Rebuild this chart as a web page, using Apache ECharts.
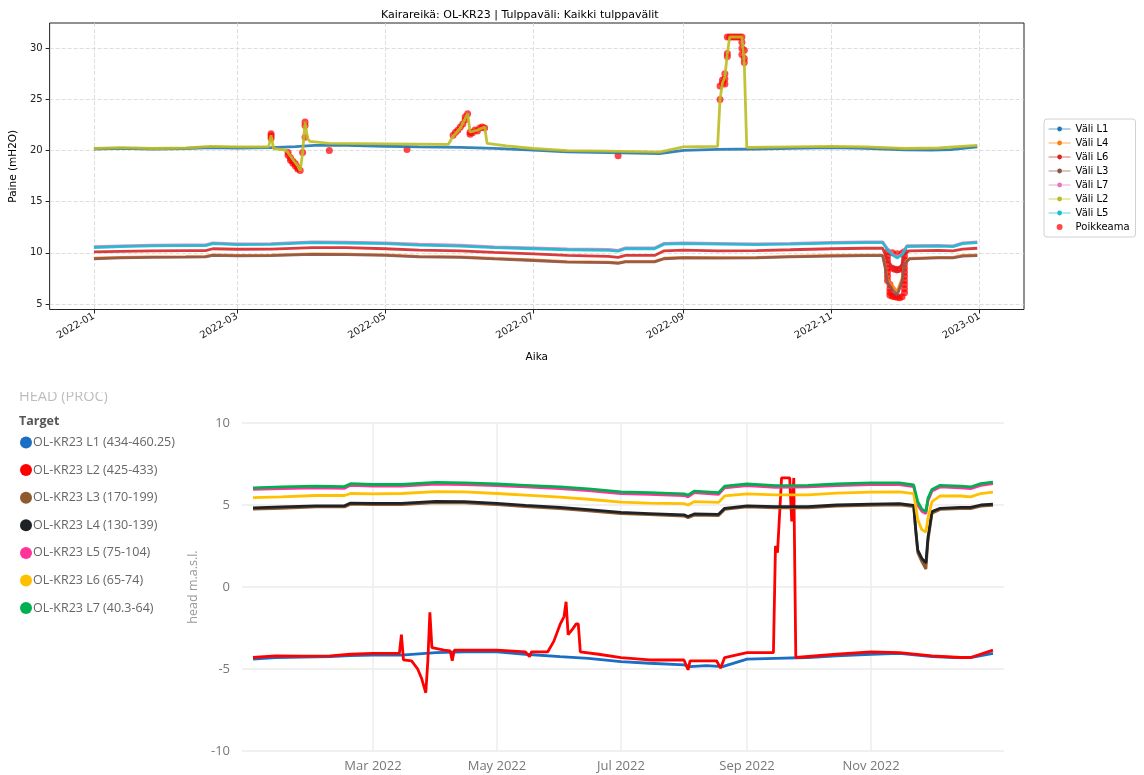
<!DOCTYPE html>
<html>
<head>
<meta charset="utf-8">
<script src="https://cdn.jsdelivr.net/npm/echarts@6/dist/echarts.min.js"></script>
<style>
  html, body { margin: 0; padding: 0; background: #fff; }
  #chart { width: 1144px; height: 775px; }
</style>
</head>
<body>
<div id="chart"></div>
<script>
// upper plot: pressure per interval (mH2O)
const topXTicks = ['2022-01-01', '2022-03-01', '2022-05-01', '2022-07-01', '2022-09-01', '2022-11-01', '2023-01-01'];
const topYTicks = [5, 10, 15, 20, 25, 30];

const topL1 = [['2022-01-01',20.15],['2022-01-12',20.22],['2022-01-25',20.15],['2022-02-08',20.2],['2022-02-18',20.3],['2022-03-01',20.25],['2022-03-15',20.28],['2022-03-25',20.38],['2022-04-02',20.5],['2022-04-15',20.5],['2022-05-01',20.42],['2022-05-15',20.35],['2022-06-01',20.32],['2022-06-15',20.22],['2022-07-01',20.05],['2022-07-15',19.88],['2022-08-01',19.8],['2022-08-12',19.75],['2022-08-22',19.7],['2022-09-01',20.02],['2022-09-15',20.12],['2022-10-01',20.15],['2022-10-15',20.22],['2022-11-01',20.28],['2022-11-15',20.22],['2022-12-01',20.08],['2022-12-12',20.05],['2022-12-20',20.1],['2022-12-31',20.35]];
const topL4 = [['2022-01-01',9.48],['2022-01-12',9.55],['2022-01-25',9.6],['2022-02-08',9.62],['2022-02-16',9.65],['2022-02-19',9.8],['2022-03-01',9.75],['2022-03-15',9.77],['2022-04-01',9.9],['2022-04-15',9.88],['2022-05-01',9.8],['2022-05-15',9.66],['2022-06-01',9.6],['2022-06-15',9.45],['2022-07-01',9.3],['2022-07-15',9.15],['2022-08-01',9.1],['2022-08-05',9.02],['2022-08-08',9.17],['2022-08-20',9.17],['2022-08-24',9.47],['2022-09-01',9.55],['2022-09-15',9.53],['2022-10-01',9.55],['2022-10-15',9.65],['2022-11-01',9.74],['2022-11-15',9.78],['2022-11-22',9.78],['2022-11-23',8.8],['2022-11-24',7.4],['2022-11-26',6.8],['2022-11-28',6.2],['2022-11-30',7.5],['2022-12-01',9.0],['2022-12-03',9.45],['2022-12-15',9.55],['2022-12-21',9.55],['2022-12-25',9.74],['2022-12-31',9.78]];
const topL6 = [['2022-01-01',10.1],['2022-01-12',10.15],['2022-01-25',10.2],['2022-02-08',10.22],['2022-02-16',10.22],['2022-02-19',10.4],['2022-03-01',10.35],['2022-03-15',10.36],['2022-04-01',10.5],['2022-04-15',10.5],['2022-05-01',10.4],['2022-05-15',10.26],['2022-06-01',10.2],['2022-06-15',10.05],['2022-07-01',9.9],['2022-07-15',9.76],['2022-08-01',9.66],['2022-08-05',9.56],['2022-08-08',9.75],['2022-08-20',9.75],['2022-08-24',10.2],['2022-09-01',10.26],['2022-09-15',10.2],['2022-10-01',10.22],['2022-10-15',10.3],['2022-11-01',10.4],['2022-11-15',10.45],['2022-11-22',10.45],['2022-11-24',9.3],['2022-11-26',8.6],['2022-11-28',8.1],['2022-11-30',8.9],['2022-12-01',9.9],['2022-12-03',10.2],['2022-12-15',10.25],['2022-12-21',10.2],['2022-12-25',10.36],['2022-12-31',10.45]];
const topL3 = [['2022-01-01',9.42],['2022-01-12',9.5],['2022-01-25',9.55],['2022-02-08',9.58],['2022-02-16',9.6],['2022-02-19',9.75],['2022-03-01',9.7],['2022-03-15',9.72],['2022-04-01',9.85],['2022-04-15',9.83],['2022-05-01',9.75],['2022-05-15',9.6],['2022-06-01',9.55],['2022-06-15',9.4],['2022-07-01',9.25],['2022-07-15',9.1],['2022-08-01',9.05],['2022-08-05',8.98],['2022-08-08',9.12],['2022-08-20',9.12],['2022-08-24',9.42],['2022-09-01',9.5],['2022-09-15',9.48],['2022-10-01',9.5],['2022-10-15',9.6],['2022-11-01',9.68],['2022-11-15',9.72],['2022-11-22',9.72],['2022-11-23',8.6],['2022-11-24',7.1],['2022-11-26',6.4],['2022-11-28',5.85],['2022-11-30',7.2],['2022-12-01',8.9],['2022-12-03',9.4],['2022-12-15',9.5],['2022-12-21',9.5],['2022-12-25',9.68],['2022-12-31',9.72]];
const topL7 = [['2022-01-01',10.6],['2022-01-12',10.68],['2022-01-25',10.76],['2022-02-08',10.78],['2022-02-16',10.78],['2022-02-19',10.98],['2022-03-01',10.88],['2022-03-15',10.9],['2022-04-01',11.08],['2022-04-15',11.04],['2022-05-01',10.98],['2022-05-15',10.84],['2022-06-01',10.74],['2022-06-15',10.58],['2022-07-01',10.48],['2022-07-15',10.38],['2022-08-01',10.33],['2022-08-05',10.24],['2022-08-08',10.48],['2022-08-20',10.48],['2022-08-24',10.93],['2022-09-01',10.98],['2022-09-15',10.93],['2022-10-01',10.88],['2022-10-15',10.93],['2022-11-01',11.03],['2022-11-15',11.08],['2022-11-22',11.08],['2022-11-24',10.4],['2022-11-26',9.9],['2022-11-28',9.6],['2022-11-30',9.9],['2022-12-02',10.7],['2022-12-15',10.73],['2022-12-21',10.68],['2022-12-25',10.98],['2022-12-31',11.08]];
const topL2 = [['2022-01-01',20.2],['2022-01-12',20.28],['2022-01-25',20.2],['2022-02-08',20.25],['2022-02-18',20.4],['2022-03-01',20.35],['2022-03-14',20.35],['2022-03-15',21.5],['2022-03-16',20.2],['2022-03-21',20.05],['2022-03-22',19.8],['2022-03-24',19.1],['2022-03-26',18.5],['2022-03-27',18.0],['2022-03-28',19.8],['2022-03-29',22.8],['2022-03-30',21.2],['2022-03-31',20.9],['2022-04-08',20.7],['2022-05-01',20.65],['2022-05-27',20.6],['2022-05-29',21.4],['2022-06-01',22.2],['2022-06-04',23.6],['2022-06-05',21.8],['2022-06-08',22.0],['2022-06-11',22.3],['2022-06-12',20.7],['2022-06-20',20.45],['2022-07-01',20.2],['2022-07-15',20.0],['2022-08-01',19.95],['2022-08-12',19.9],['2022-08-22',19.85],['2022-09-01',20.35],['2022-09-15',20.4],['2022-09-16',25.0],['2022-09-17',26.6],['2022-09-18',27.2],['2022-09-19',29.5],['2022-09-20',31.1],['2022-09-25',31.1],['2022-09-26',28.5],['2022-09-27',20.3],['2022-10-15',20.35],['2022-11-01',20.4],['2022-11-15',20.35],['2022-12-01',20.2],['2022-12-15',20.25],['2022-12-31',20.5]];
const topL5 = [['2022-01-01',10.52],['2022-01-12',10.6],['2022-01-25',10.68],['2022-02-08',10.7],['2022-02-16',10.7],['2022-02-19',10.9],['2022-03-01',10.8],['2022-03-15',10.82],['2022-04-01',11.0],['2022-04-15',10.96],['2022-05-01',10.9],['2022-05-15',10.76],['2022-06-01',10.66],['2022-06-15',10.5],['2022-07-01',10.4],['2022-07-15',10.3],['2022-08-01',10.25],['2022-08-05',10.16],['2022-08-08',10.4],['2022-08-20',10.4],['2022-08-24',10.85],['2022-09-01',10.9],['2022-09-15',10.85],['2022-10-01',10.8],['2022-10-15',10.85],['2022-11-01',10.95],['2022-11-15',11.0],['2022-11-22',11.0],['2022-11-24',10.3],['2022-11-26',9.8],['2022-11-28',9.5],['2022-11-30',9.8],['2022-12-02',10.62],['2022-12-15',10.65],['2022-12-21',10.6],['2022-12-25',10.9],['2022-12-31',11.0]];
const poikkeama = [
  ['2022-03-15',21.2],['2022-03-15',21.45],['2022-03-15',21.65],
  ['2022-03-22',19.8],['2022-03-22',19.55],['2022-03-23',19.3],['2022-03-23',19.05],['2022-03-24',18.95],['2022-03-24',18.75],['2022-03-25',18.7],['2022-03-25',18.5],['2022-03-26',18.35],['2022-03-26',18.2],['2022-03-27',18.05],
  ['2022-03-28',19.8],['2022-03-29',21.3],['2022-03-29',22.45],['2022-03-29',22.8],
  ['2022-04-08',20.0],['2022-05-10',20.1],
  ['2022-05-29',21.5],['2022-05-30',21.8],['2022-05-31',22.0],['2022-06-01',22.3],['2022-06-02',22.6],['2022-06-03',23.0],['2022-06-03',23.3],['2022-06-04',23.6],['2022-06-05',21.8],['2022-06-05',21.6],['2022-06-06',21.75],['2022-06-07',22.0],['2022-06-08',21.9],['2022-06-09',22.2],['2022-06-10',22.3],['2022-06-11',22.2],
  ['2022-08-05',19.5],
  ['2022-09-16',25.0],['2022-09-16',26.3],['2022-09-17',26.6],['2022-09-17',26.9],['2022-09-18',26.5],['2022-09-18',27.0],['2022-09-18',27.5],['2022-09-19',29.5],['2022-09-19',29.2],['2022-09-19',31.1],['2022-09-20',31.1],['2022-09-21',31.1],['2022-09-22',31.1],['2022-09-23',31.1],['2022-09-24',31.1],['2022-09-25',31.1],['2022-09-25',30.6],['2022-09-25',30.0],['2022-09-25',29.4],['2022-09-26',29.8],['2022-09-26',29.0],['2022-09-26',28.6],
  ['2022-11-24',10.1],['2022-11-24',9.7],['2022-11-24',9.3],['2022-11-24',8.9],['2022-11-24',8.5],['2022-11-24',8.1],['2022-11-24',7.7],['2022-11-24',7.3],['2022-11-25',6.9],['2022-11-25',6.5],['2022-11-25',6.15],
  ['2022-11-25',5.85],['2022-11-26',5.75],['2022-11-27',5.7],['2022-11-28',5.65],['2022-11-29',5.6],['2022-11-30',5.7],
  ['2022-12-01',6.1],['2022-12-01',6.5],['2022-12-01',6.9],['2022-12-01',7.3],['2022-12-01',7.7],['2022-12-01',8.1],['2022-12-01',8.5],['2022-12-01',8.9],['2022-12-01',9.3],['2022-12-01',9.7],['2022-12-01',10.1],
  ['2022-11-26',8.5],['2022-11-27',8.4],['2022-11-28',8.35],['2022-11-29',8.4],['2022-11-30',8.5],
  ['2022-11-26',10.0],['2022-11-28',9.9],['2022-11-30',9.95]
];

// lower plot: head (m.a.s.l.)
const bottomXTicks = ['2022-03-01', '2022-05-01', '2022-07-01', '2022-09-01', '2022-11-01'];
const monthNames = ['Jan', 'Feb', 'Mar', 'Apr', 'May', 'Jun', 'Jul', 'Aug', 'Sep', 'Oct', 'Nov', 'Dec'];

const headL1 = [['2022-01-01',-4.4],['2022-01-12',-4.3],['2022-01-25',-4.28],['2022-02-08',-4.25],['2022-02-18',-4.18],['2022-03-01',-4.15],['2022-03-15',-4.15],['2022-04-01',-4.0],['2022-04-15',-3.95],['2022-05-01',-3.95],['2022-05-15',-4.1],['2022-06-01',-4.25],['2022-06-15',-4.35],['2022-07-01',-4.55],['2022-07-15',-4.65],['2022-08-01',-4.75],['2022-08-04',-4.85],['2022-08-12',-4.8],['2022-08-20',-4.85],['2022-09-01',-4.4],['2022-09-15',-4.35],['2022-10-01',-4.3],['2022-10-15',-4.2],['2022-11-01',-4.1],['2022-11-15',-4.05],['2022-12-01',-4.25],['2022-12-12',-4.3],['2022-12-20',-4.3],['2022-12-31',-4.05]];
const headL2 = [['2022-01-01',-4.3],['2022-01-12',-4.2],['2022-01-25',-4.22],['2022-02-08',-4.2],['2022-02-18',-4.1],['2022-03-01',-4.05],['2022-03-14',-4.05],['2022-03-15',-2.9],['2022-03-16',-4.45],['2022-03-20',-4.5],['2022-03-23',-5.0],['2022-03-25',-5.6],['2022-03-27',-6.45],['2022-03-28',-4.5],['2022-03-29',-1.55],['2022-03-30',-3.7],['2022-04-05',-3.85],['2022-04-08',-3.9],['2022-04-09',-4.5],['2022-04-10',-3.85],['2022-05-01',-3.85],['2022-05-15',-3.95],['2022-05-17',-4.25],['2022-05-18',-3.95],['2022-05-26',-3.95],['2022-05-29',-3.3],['2022-06-01',-2.3],['2022-06-03',-1.8],['2022-06-04',-0.9],['2022-06-05',-2.9],['2022-06-07',-2.6],['2022-06-09',-2.25],['2022-06-10',-2.25],['2022-06-11',-3.95],['2022-06-20',-4.1],['2022-07-01',-4.3],['2022-07-15',-4.45],['2022-08-01',-4.45],['2022-08-03',-5.05],['2022-08-04',-4.5],['2022-08-17',-4.5],['2022-08-19',-4.95],['2022-08-21',-4.3],['2022-09-01',-4.0],['2022-09-14',-4.0],['2022-09-15',2.5],['2022-09-16',2.1],['2022-09-18',6.65],['2022-09-22',6.65],['2022-09-23',4.0],['2022-09-24',6.65],['2022-09-25',-4.3],['2022-10-15',-4.1],['2022-11-01',-3.95],['2022-11-15',-4.0],['2022-12-01',-4.2],['2022-12-15',-4.3],['2022-12-20',-4.3],['2022-12-31',-3.85]];
const headL3 = [['2022-01-01',4.75],['2022-01-15',4.8],['2022-02-01',4.88],['2022-02-15',4.88],['2022-02-18',5.05],['2022-03-01',5.03],['2022-03-15',5.03],['2022-04-01',5.15],['2022-04-15',5.13],['2022-05-01',5.03],['2022-05-15',4.9],['2022-06-01',4.78],['2022-06-15',4.65],['2022-07-01',4.48],['2022-07-15',4.41],['2022-08-01',4.33],['2022-08-03',4.22],['2022-08-06',4.38],['2022-08-18',4.36],['2022-08-21',4.73],['2022-09-01',4.88],['2022-09-15',4.83],['2022-10-01',4.83],['2022-10-15',4.93],['2022-11-01',4.98],['2022-11-15',5.01],['2022-11-22',4.9],['2022-11-23',3.4],['2022-11-24',2.1],['2022-11-26',1.55],['2022-11-28',1.1],['2022-11-29',2.8],['2022-12-01',4.5],['2022-12-05',4.73],['2022-12-15',4.78],['2022-12-20',4.78],['2022-12-25',4.93],['2022-12-31',4.98]];
const headL4 = [['2022-01-01',4.82],['2022-01-15',4.88],['2022-02-01',4.95],['2022-02-15',4.95],['2022-02-18',5.12],['2022-03-01',5.1],['2022-03-15',5.1],['2022-04-01',5.22],['2022-04-15',5.2],['2022-05-01',5.1],['2022-05-15',4.98],['2022-06-01',4.85],['2022-06-15',4.72],['2022-07-01',4.55],['2022-07-15',4.48],['2022-08-01',4.4],['2022-08-03',4.3],['2022-08-06',4.45],['2022-08-18',4.43],['2022-08-21',4.8],['2022-09-01',4.95],['2022-09-15',4.9],['2022-10-01',4.9],['2022-10-15',5.0],['2022-11-01',5.05],['2022-11-15',5.08],['2022-11-22',4.98],['2022-11-23',3.5],['2022-11-24',2.25],['2022-11-26',1.75],['2022-11-28',1.45],['2022-11-29',3.0],['2022-12-01',4.6],['2022-12-05',4.8],['2022-12-15',4.85],['2022-12-20',4.85],['2022-12-25',5.0],['2022-12-31',5.05]];
const headL5 = [['2022-01-01',5.95],['2022-01-15',6.0],['2022-02-01',6.05],['2022-02-15',6.02],['2022-02-18',6.2],['2022-03-01',6.15],['2022-03-15',6.15],['2022-04-01',6.28],['2022-04-15',6.25],['2022-05-01',6.18],['2022-05-15',6.1],['2022-06-01',6.0],['2022-06-15',5.88],['2022-07-01',5.7],['2022-07-15',5.65],['2022-08-01',5.58],['2022-08-03',5.5],['2022-08-06',5.75],['2022-08-18',5.65],['2022-08-21',6.05],['2022-09-01',6.18],['2022-09-15',6.08],['2022-10-01',6.1],['2022-10-15',6.18],['2022-11-01',6.25],['2022-11-15',6.25],['2022-11-22',6.12],['2022-11-24',5.0],['2022-11-26',4.62],['2022-11-28',4.48],['2022-11-29',5.25],['2022-12-01',5.85],['2022-12-05',6.1],['2022-12-15',6.05],['2022-12-20',6.0],['2022-12-25',6.2],['2022-12-31',6.3]];
const headL6 = [['2022-01-01',5.45],['2022-01-15',5.5],['2022-02-01',5.58],['2022-02-15',5.58],['2022-02-18',5.7],['2022-03-01',5.68],['2022-03-15',5.7],['2022-04-01',5.82],['2022-04-15',5.8],['2022-05-01',5.7],['2022-05-15',5.6],['2022-06-01',5.48],['2022-06-15',5.35],['2022-07-01',5.18],['2022-07-15',5.12],['2022-08-01',5.08],['2022-08-03',5.0],['2022-08-06',5.2],['2022-08-18',5.16],['2022-08-21',5.55],['2022-09-01',5.68],['2022-09-15',5.62],['2022-10-01',5.62],['2022-10-15',5.72],['2022-11-01',5.78],['2022-11-15',5.8],['2022-11-22',5.7],['2022-11-24',4.1],['2022-11-26',3.5],['2022-11-28',3.35],['2022-11-29',4.2],['2022-12-01',5.2],['2022-12-05',5.55],['2022-12-15',5.55],['2022-12-20',5.5],['2022-12-25',5.7],['2022-12-31',5.78]];
const headL7 = [['2022-01-01',6.05],['2022-01-15',6.1],['2022-02-01',6.15],['2022-02-15',6.12],['2022-02-18',6.3],['2022-03-01',6.25],['2022-03-15',6.25],['2022-04-01',6.38],['2022-04-15',6.35],['2022-05-01',6.28],['2022-05-15',6.2],['2022-06-01',6.1],['2022-06-15',5.98],['2022-07-01',5.8],['2022-07-15',5.75],['2022-08-01',5.68],['2022-08-03',5.6],['2022-08-06',5.85],['2022-08-18',5.75],['2022-08-21',6.15],['2022-09-01',6.28],['2022-09-15',6.18],['2022-10-01',6.2],['2022-10-15',6.28],['2022-11-01',6.35],['2022-11-15',6.35],['2022-11-22',6.22],['2022-11-24',5.2],['2022-11-26',4.75],['2022-11-28',4.6],['2022-11-29',5.4],['2022-12-01',5.95],['2022-12-05',6.2],['2022-12-15',6.15],['2022-12-20',6.1],['2022-12-25',6.3],['2022-12-31',6.4]];

// dates become timestamps on a plain value axis so the month ticks can be placed exactly
const t = s => +new Date(s + 'T00:00:00');
const ts = rows => rows.map(([d, v]) => [t(d), v]);
const mpl = 'DejaVu Sans';
const pbi = 'Open Sans';

const topLine = (name, data, color) => ({
  type: 'line', name, data: ts(data), xAxisIndex: 0, yAxisIndex: 0,
  symbol: 'circle', symbolSize: 3, showSymbol: false,
  lineStyle: { color, width: 2.8, opacity: 0.9 },
  itemStyle: { color },
  emphasis: { disabled: true }
});
const headLine = (name, data, color) => ({
  type: 'line', name, data: ts(data), xAxisIndex: 1, yAxisIndex: 1,
  symbol: 'none',
  lineStyle: { color, width: 2.8 },
  itemStyle: { color },
  emphasis: { disabled: true }
});

const chart = echarts.init(document.getElementById('chart'));
const option = {
  animation: false,
  textStyle: { fontFamily: mpl },
  title: {
    text: 'Kairareikä: OL-KR23 | Tulppaväli: Kaikki tulppavälit',
    left: 376, top: 5,
    textStyle: { fontSize: 11, fontWeight: 'normal', color: '#000', fontFamily: mpl }
  },
  graphic: [
    { type: 'text', x: 19, y: 404, style: { text: 'HEAD (PROC)', fontSize: 14.5, fill: '#bdbdbd', fontFamily: pbi, verticalAlign: 'bottom' } },
    { type: 'rect', shape: { x: 0, y: 370, width: 200, height: 22 }, style: { fill: '#fff' } },
    { type: 'text', x: 19, y: 421, style: { text: 'Target', fontSize: 12.5, fontWeight: 'bold', fill: '#555', fontFamily: pbi, verticalAlign: 'middle' } }
  ],
  legend: [
    {
      orient: 'vertical', left: 1044, top: 119,
      padding: [5, 6, 5, 4], itemGap: 4, itemWidth: 22, itemHeight: 6,
      borderColor: '#d0d0d0', borderWidth: 1, borderRadius: 3,
      lineStyle: { width: 1.2, opacity: 0.55 },
      textStyle: { fontSize: 10, color: '#000', fontFamily: mpl },
      data: ['Väli L1', 'Väli L4', 'Väli L6', 'Väli L3', 'Väli L7', 'Väli L2', 'Väli L5', 'Poikkeama']
    },
    {
      orient: 'vertical', left: 20, top: 436,
      padding: 0, itemGap: 14.6, itemWidth: 12, itemHeight: 12, icon: 'circle',
      textStyle: { fontSize: 12.5, color: '#666', fontFamily: pbi, padding: [0, 0, 0, -4] },
      data: ['OL-KR23 L1 (434-460.25)', 'OL-KR23 L2 (425-433)', 'OL-KR23 L3 (170-199)', 'OL-KR23 L4 (130-139)',
             'OL-KR23 L5 (75-104)', 'OL-KR23 L6 (65-74)', 'OL-KR23 L7 (40.3-64)']
    }
  ],
  grid: [
    { left: 49, right: 120, top: 23, bottom: 465.5, show: true, borderColor: '#222', borderWidth: 1, backgroundColor: 'transparent' },
    { left: 242, right: 140, top: 423, bottom: 24 }
  ],
  xAxis: [
    {
      type: 'value', gridIndex: 0,
      min: t('2021-12-13') + 18 * 3600e3, max: t('2023-01-19') + 6 * 3600e3,
      axisLine: { show: false },
      axisTick: { show: true, length: 4, lineStyle: { color: '#222' }, customValues: topXTicks.map(t) },
      axisLabel: {
        customValues: topXTicks.map(t), rotate: 30, margin: 6, fontSize: 10, color: '#222', fontFamily: mpl,
        formatter: v => { const d = new Date(v); return d.getFullYear() + '-' + String(d.getMonth() + 1).padStart(2, '0'); }
      },
      splitLine: { show: true, lineStyle: { color: '#d6d6d6', width: 0.8, type: [4, 2] } },
      name: 'Aika', nameLocation: 'middle', nameGap: 42,
      nameTextStyle: { fontSize: 10.5, color: '#000', fontFamily: mpl }
    },
    {
      type: 'value', gridIndex: 1,
      min: t('2021-12-26') + 14 * 3600e3, max: t('2023-01-05') + 10 * 3600e3,
      axisLine: { show: false },
      axisTick: { show: false, customValues: bottomXTicks.map(t) },
      axisLabel: {
        customValues: bottomXTicks.map(t), margin: 9, fontSize: 13, color: '#777', fontFamily: pbi,
        formatter: v => { const d = new Date(v); return monthNames[d.getMonth()] + ' ' + d.getFullYear(); }
      },
      splitLine: { show: true, lineStyle: { color: '#ececec', width: 1.5 } }
    }
  ],
  yAxis: [
    {
      type: 'value', gridIndex: 0, min: 4.46, max: 32.47,
      axisLine: { show: false },
      axisTick: { show: true, length: 4, lineStyle: { color: '#222' }, customValues: topYTicks },
      axisLabel: { customValues: topYTicks, margin: 7, fontSize: 10, color: '#222', fontFamily: mpl },
      splitLine: { show: true, lineStyle: { color: '#d6d6d6', width: 0.8, type: [4, 2] } },
      name: 'Paine (mH2O)', nameLocation: 'middle', nameGap: 22,
      nameTextStyle: { fontSize: 10.5, color: '#000', fontFamily: mpl }
    },
    {
      type: 'value', gridIndex: 1, min: -10, max: 10, interval: 5,
      axisLine: { show: false }, axisTick: { show: false },
      axisLabel: { margin: 12, fontSize: 13, color: '#777', fontFamily: pbi },
      splitLine: { show: true, lineStyle: { color: '#ebebeb', width: 1.5 } },
      name: 'head m.a.s.l.', nameLocation: 'middle', nameGap: 42,
      nameTextStyle: { fontSize: 12.5, color: '#999', fontFamily: pbi }
    }
  ],
  series: [
    topLine('Väli L1', topL1, '#1f77b4'),
    topLine('Väli L4', topL4, '#ff7f0e'),
    topLine('Väli L6', topL6, '#d62728'),
    topLine('Väli L3', topL3, '#8c564b'),
    topLine('Väli L7', topL7, '#e377c2'),
    topLine('Väli L2', topL2, '#bcbd22'),
    topLine('Väli L5', topL5, '#17becf'),
    {
      type: 'scatter', name: 'Poikkeama', data: ts(poikkeama), xAxisIndex: 0, yAxisIndex: 0,
      symbolSize: 7, itemStyle: { color: 'rgba(255,0,0,0.9)' }, emphasis: { disabled: true }
    },
    headLine('OL-KR23 L1 (434-460.25)', headL1, '#1a6ec4'),
    headLine('OL-KR23 L2 (425-433)', headL2, '#ff0000'),
    headLine('OL-KR23 L3 (170-199)', headL3, '#8e5b2e'),
    headLine('OL-KR23 L4 (130-139)', headL4, '#1e2226'),
    headLine('OL-KR23 L5 (75-104)', headL5, '#ff3399'),
    headLine('OL-KR23 L6 (65-74)', headL6, '#ffc000'),
    headLine('OL-KR23 L7 (40.3-64)', headL7, '#00b050')
  ]
};
chart.setOption(option);
</script>
</body>
</html>
